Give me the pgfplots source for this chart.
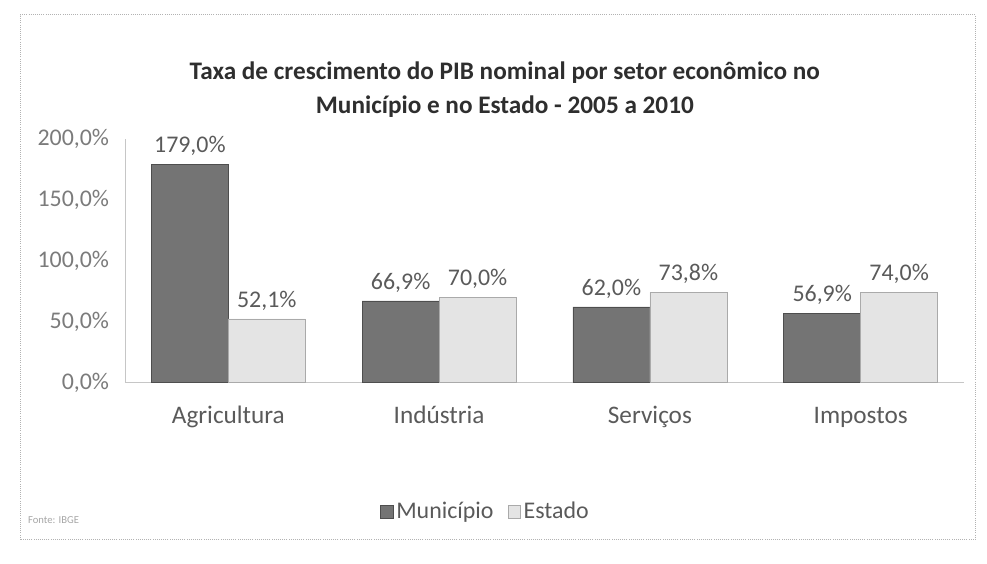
\documentclass[border=0pt]{standalone}
\usepackage{pgfplots}
\pgfplotsset{compat=1.18}
\usepackage{fontspec}
\setmainfont{Carlito}
\definecolor{darkbar}{HTML}{747474}
\definecolor{darkedge}{HTML}{4E4E4E}
\definecolor{lightbar}{HTML}{E4E4E4}
\definecolor{lightedge}{HTML}{AAAAAA}
\definecolor{txt}{HTML}{5A5A5A}
\definecolor{ttl}{HTML}{2E2E2E}
\begin{document}
\begin{tikzpicture}[x=1cm,y=1cm]
\useasboundingbox (0,0) rectangle (26.12,14.92);
\draw[gray!60, densely dotted, line width=0.6pt] (0.53,0.64) rectangle (25.8,14.53);
\node[align=center, text=ttl, font=\fontsize{19}{26}\selectfont\bfseries] at (13.36,12.55)
  {Taxa de crescimento do PIB nominal por setor econômico no\\Município e no Estado - 2005 a 2010};
\node[anchor=west, text=gray!70, font=\fontsize{8}{10}\selectfont] at (0.62,1.15) {Fonte: IBGE};
\begin{axis}[
  at={(3.31cm,4.80cm)}, anchor=south west,
  scale only axis, width=22.2cm, height=6.45cm,
  ybar=0pt, bar width=0.365,
  xmin=-0.49, xmax=3.49, ymin=0, ymax=200,
  xtick={0,1,2,3},
  xticklabels={Agricultura,Indústria,Serviços,Impostos},
  ytick={0,50,100,150,200},
  yticklabels={{0,0\%},{50,0\%},{100,0\%},{150,0\%},{200,0\%}},
  major tick length=0pt,
  axis x line*=bottom, axis y line*=left,
  axis line style={gray!45, -},
  tick label style={text=txt, font=\fontsize{18}{20}\selectfont},
  xticklabel style={yshift=-0.7cm, text height=1.6ex, text depth=0.4ex, font=\fontsize{19}{21}\selectfont},
  yticklabel style={xshift=-0.3cm, text=txt!80},
  nodes near coords={\pgfmathprintnumber[fixed,fixed zerofill,precision=1,use comma,assume math mode=true]{\pgfplotspointmeta}\%},
  nodes near coords style={text=txt, font=\fontsize{18}{20}\selectfont, yshift=3pt},
  legend style={at={(0.43,-0.53)}, anchor=center, draw=none, legend columns=2,
    font=\fontsize{18}{20}\selectfont, text=txt, /tikz/every even column/.append style={column sep=0.3cm}},
  legend image code/.code={\draw[#1] (0cm,-0.17cm) rectangle (0.34cm,0.17cm);},
  clip=false,
]
\addplot[fill=darkbar, draw=darkedge] coordinates {(0,179.0) (1,66.9) (2,62.0) (3,56.9)};
\addplot[fill=lightbar, draw=lightedge] coordinates {(0,52.1) (1,70.0) (2,73.8) (3,74.0)};
\legend{Município, Estado}
\end{axis}
\end{tikzpicture}
\end{document}
